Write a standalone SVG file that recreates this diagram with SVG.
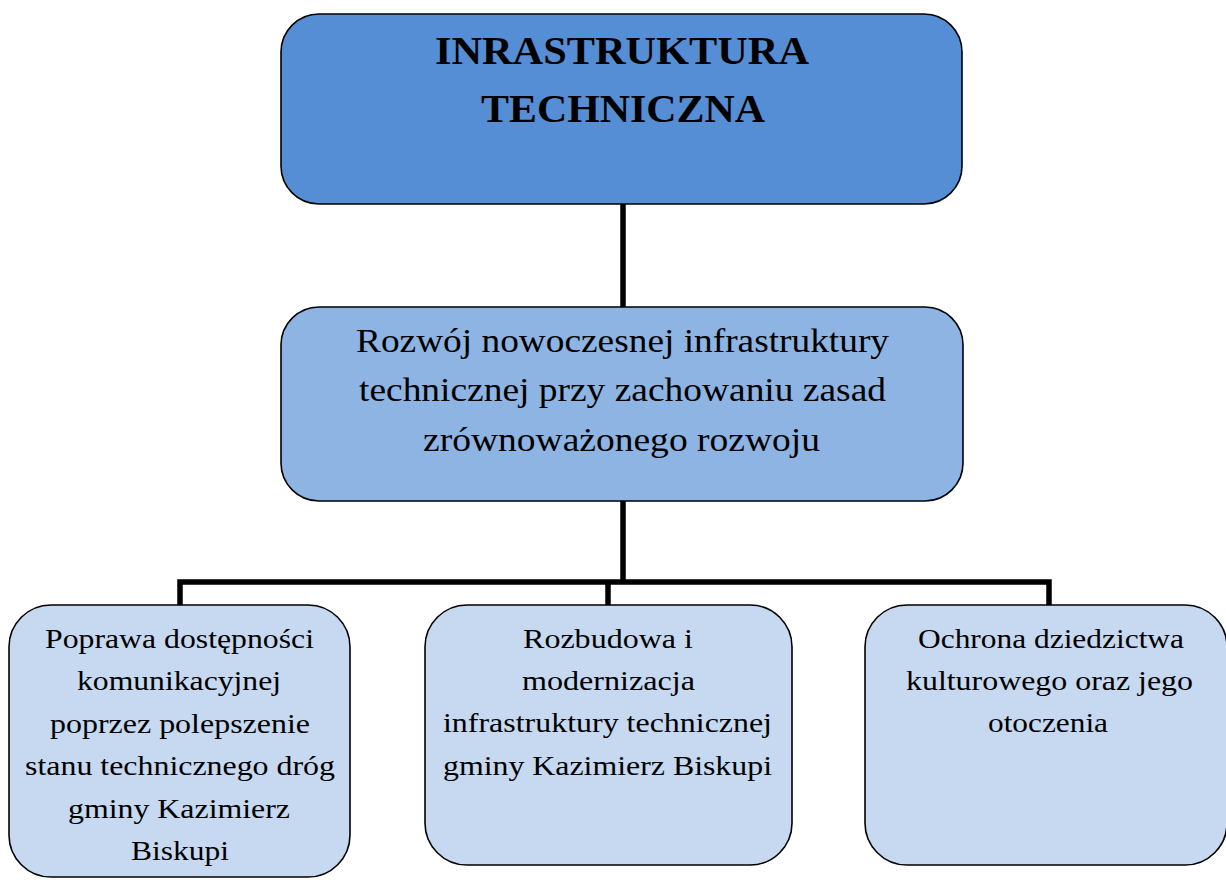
<svg xmlns="http://www.w3.org/2000/svg" width="1226" height="880" viewBox="0 0 1226 880">
<style>
.box{stroke:#000;stroke-width:1.6}
text{font-family:'Liberation Serif','DejaVu Serif',serif;fill:#000}
.title{font-size:41px;font-weight:bold}
.mid{font-size:33px}
.low{font-size:28px}
.conn{stroke:#000;stroke-width:5.5;fill:none}
</style>
<rect width="1226" height="880" fill="#fff"/>
<g id="connectors">
<line class="conn" x1="623" y1="204" x2="623" y2="307"/>
<line class="conn" x1="623" y1="501" x2="623" y2="582"/>
<polyline class="conn" points="180,605 180,582 1049,582 1049,605"/>
<line class="conn" x1="608" y1="582" x2="608" y2="605"/>
</g>
<g id="top">
<rect class="box" x="281" y="14" width="681" height="190" rx="38" fill="#558ED5"/>
<text class="title" x="435" y="64" textLength="374" lengthAdjust="spacingAndGlyphs">INRASTRUKTURA</text>
<text class="title" x="481" y="122" textLength="284" lengthAdjust="spacingAndGlyphs">TECHNICZNA</text>
</g>
<g id="middle">
<rect class="box" x="281" y="307" width="682" height="194" rx="38" fill="#8EB4E3"/>
<text class="mid" x="356" y="352" textLength="533" lengthAdjust="spacingAndGlyphs">Rozwój nowoczesnej infrastruktury</text>
<text class="mid" x="359" y="401" textLength="527" lengthAdjust="spacingAndGlyphs">technicznej przy zachowaniu zasad</text>
<text class="mid" x="423" y="451" textLength="397" lengthAdjust="spacingAndGlyphs">zrównoważonego rozwoju</text>
</g>
<g id="left">
<rect class="box" x="9" y="605" width="341" height="272" rx="42" fill="#C6D9F1"/>
<text class="low" x="45" y="648" textLength="269" lengthAdjust="spacingAndGlyphs">Poprawa dostępności</text>
<text class="low" x="77" y="690" textLength="204" lengthAdjust="spacingAndGlyphs">komunikacyjnej</text>
<text class="low" x="50" y="733" textLength="260" lengthAdjust="spacingAndGlyphs">poprzez polepszenie</text>
<text class="low" x="25" y="775" textLength="310" lengthAdjust="spacingAndGlyphs">stanu technicznego dróg</text>
<text class="low" x="68" y="818" textLength="222" lengthAdjust="spacingAndGlyphs">gminy Kazimierz</text>
<text class="low" x="131" y="860" textLength="98" lengthAdjust="spacingAndGlyphs">Biskupi</text>
</g>
<g id="center">
<rect class="box" x="425" y="605" width="367" height="260" rx="42" fill="#C6D9F1"/>
<text class="low" x="523" y="648" textLength="170" lengthAdjust="spacingAndGlyphs">Rozbudowa i</text>
<text class="low" x="522" y="690" textLength="173" lengthAdjust="spacingAndGlyphs">modernizacja</text>
<text class="low" x="443" y="732" textLength="329" lengthAdjust="spacingAndGlyphs">infrastruktury technicznej</text>
<text class="low" x="443" y="775" textLength="329" lengthAdjust="spacingAndGlyphs">gminy Kazimierz Biskupi</text>
</g>
<g id="right">
<rect class="box" x="865" y="605" width="362" height="260" rx="42" fill="#C6D9F1"/>
<text class="low" x="918" y="648" textLength="266" lengthAdjust="spacingAndGlyphs">Ochrona dziedzictwa</text>
<text class="low" x="906" y="690" textLength="287" lengthAdjust="spacingAndGlyphs">kulturowego oraz jego</text>
<text class="low" x="988" y="732" textLength="120" lengthAdjust="spacingAndGlyphs">otoczenia</text>
</g>
</svg>
